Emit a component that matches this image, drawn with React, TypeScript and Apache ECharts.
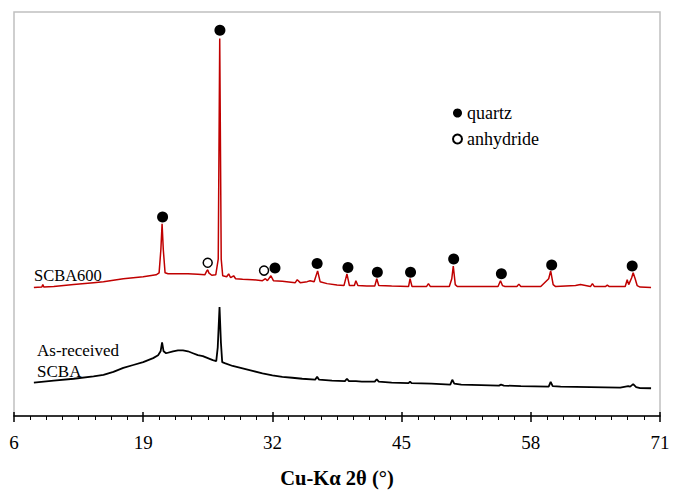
import React, { useEffect, useRef } from "react";
import * as echarts from "echarts";

// SCBA600 (red, offset pattern)
const redTheta = [8.0, 8.8, 8.9, 9.0, 10, 12, 14, 15, 17, 19, 20.3, 20.6, 20.78, 20.9, 21.02, 21.2, 21.5, 22.5, 23.5, 24.5, 25.2, 25.4, 25.5, 25.6, 25.9, 26.3, 26.55, 26.7, 26.85, 27.0, 27.4, 27.6, 27.8, 28.1, 28.3, 29, 30, 31, 31.3, 31.5, 31.85, 32.1, 33, 34.3, 34.5, 34.8, 35.5, 35.8, 36.2, 36.55, 36.8, 37.5, 38.5, 39.2, 39.5, 39.75, 40.25, 40.4, 40.6, 41.5, 42.3, 42.5, 42.7, 44, 45.7, 45.85, 46.05, 47.5, 47.7, 47.9, 49.8, 50.05, 50.2, 50.4, 50.6, 52, 54.7, 54.95, 55.15, 55.4, 56.6, 56.8, 57.0, 59.0, 59.8, 60.0, 60.25, 60.5, 62.5, 63, 63.5, 64.0, 64.2, 64.4, 65.5, 65.7, 65.9, 67.5, 67.7, 67.85, 68.15, 68.3, 68.5, 68.7, 69, 70.1];
const redIntensity = [131, 131.5, 134, 131.5, 132, 134, 136, 137, 140, 142, 144, 146, 170, 196, 170, 146, 145, 145, 145, 144.5, 144, 148, 149, 146, 143.5, 144, 160, 385, 160, 143, 142, 145, 141, 143, 140, 139.5, 139, 138, 140, 138, 143, 138, 137.5, 136, 139, 136, 137, 138, 137, 148, 137, 135, 133.5, 133, 145, 133, 133, 138, 133, 132.5, 132.5, 140, 133, 132.5, 132, 140, 132, 132, 135, 132, 132, 140, 153, 134, 132, 132, 132, 138, 133, 132, 132, 134.5, 132, 132, 140, 148, 134, 132, 133, 134, 133, 132, 135, 132, 132, 133.5, 132, 132, 139, 134, 141, 146, 140, 133, 131.5, 131];

// As-received SCBA (black)
const blackTheta = [8.0, 10, 12, 14, 15, 16, 17, 18, 19, 20, 20.5, 20.75, 20.9, 21.05, 21.3, 22, 22.5, 23, 23.5, 24, 24.5, 25, 25.5, 26, 26.35, 26.5, 26.68, 26.82, 26.95, 27.2, 28, 29, 30, 31, 32, 33, 34, 35, 36.3, 36.5, 36.7, 38, 39.3, 39.5, 39.7, 40.4, 41, 42.3, 42.5, 42.7, 44, 45.7, 45.85, 46.0, 48, 49.9, 50.1, 50.3, 51, 53, 54.8, 55, 55.3, 57, 59.8, 60.0, 60.2, 61, 64, 67, 67.8, 68.0, 68.3, 68.6, 69, 70.1];
const blackIntensity = [34, 36, 38, 40.5, 42, 45, 49, 52, 55, 59, 62, 66, 75, 66, 64, 66, 67, 67, 66, 64, 62, 61, 59, 57, 56, 70, 111, 75, 55, 54, 51, 48.5, 46, 43.5, 41.5, 40, 39, 38, 37, 40, 37, 36, 35.5, 38, 35.5, 35.5, 35, 35, 37.5, 35, 34, 33.5, 35, 33.5, 33, 32, 37, 33, 32, 31.5, 31, 32, 31, 30.5, 30, 34.7, 30.5, 30, 29.5, 29, 30.5, 30, 32.5, 29.5, 28.5, 28.3];

// phase markers
const quartzTheta = [20.95, 26.72, 32.26, 36.5, 39.6, 42.56, 45.9, 50.24, 55.04, 60.1, 68.2];
const quartzLevel = [203, 393.5, 151, 155.5, 151.5, 146.5, 146.5, 160, 145, 154, 153];
const anhydriteTheta = [25.49, 31.16];
const anhydriteLevel = [156.3, 148.3];

const xTicks = [6, 19, 32, 45, 58, 71];

const zip = (a: number[], b: number[]) => a.map((v, i) => [v, b[i]]);

const FONT = "Liberation Serif";

export default function App() {
  const ref = useRef<HTMLDivElement>(null);
  useEffect(() => {
    if (!ref.current) return;
    const chart = echarts.init(ref.current, undefined, { renderer: "svg" });
    const xMin = xTicks[0];
    const xMax = xTicks[xTicks.length - 1];
    const xInterval = xTicks[1] - xTicks[0];
    chart.setOption({
      animation: false,
      grid: {
        left: 14,
        right: 18,
        top: 12,
        bottom: 69,
        show: true,
        borderColor: "#c0c0c0",
        borderWidth: 1.5,
      },
      legend: {
        orient: "vertical",
        left: 447,
        top: 99,
        itemGap: 8,
        itemWidth: 9,
        itemHeight: 9,
        data: ["quartz", "anhydride"],
        textStyle: { fontFamily: FONT, fontSize: 18, color: "#000" },
      },
      xAxis: [
        {
          type: "value",
          min: xMin,
          max: xMax,
          interval: xInterval,
          position: "bottom",
          name: "Cu-Kα 2θ (°)",
          nameLocation: "middle",
          nameGap: 51,
          nameTextStyle: { fontFamily: FONT, fontSize: 20.5, fontWeight: "bold", color: "#000" },
          axisLine: { show: true, onZero: false, lineStyle: { color: "#000", width: 1.5 } },
          axisTick: { show: true, length: 6, lineStyle: { color: "#000", width: 1.5 } },
          minorTick: { show: true, splitNumber: 8, length: 4, lineStyle: { color: "#000", width: 1 } },
          axisLabel: { fontFamily: FONT, fontSize: 19, color: "#000", margin: 17 },
          splitLine: { show: false },
        },
        {
          type: "value",
          min: xMin,
          max: xMax,
          interval: xInterval,
          position: "bottom",
          axisLine: { show: false, onZero: false },
          axisTick: { show: true, inside: true, length: 4, lineStyle: { color: "#000", width: 1.5 } },
          axisLabel: { show: false },
          splitLine: { show: false },
        },
      ],
      yAxis: {
        type: "value",
        min: 0,
        max: 412,
        show: false,
        splitLine: { show: false },
      },
      series: [
        {
          name: "SCBA600",
          type: "line",
          data: zip(redTheta, redIntensity),
          showSymbol: false,
          symbol: "none",
          lineStyle: { color: "#c00000", width: 1.5 },
          z: 2,
        },
        {
          name: "As-received SCBA",
          type: "line",
          data: zip(blackTheta, blackIntensity),
          showSymbol: false,
          symbol: "none",
          lineStyle: { color: "#000", width: 1.8 },
          z: 2,
        },
        {
          name: "quartz",
          type: "scatter",
          data: zip(quartzTheta, quartzLevel),
          symbol: "circle",
          symbolSize: 11,
          itemStyle: { color: "#000", opacity: 1 },
          z: 3,
        },
        {
          name: "anhydride",
          type: "scatter",
          data: zip(anhydriteTheta, anhydriteLevel),
          symbol: "circle",
          symbolSize: 9,
          itemStyle: { color: "#fff", borderColor: "#000", borderWidth: 1.5, opacity: 1 },
          z: 3,
        },
      ],
      graphic: [
        {
          type: "text",
          left: 34,
          top: 267,
          style: { text: "SCBA600", font: `16.5px ${FONT}`, fill: "#000" },
        },
        {
          type: "text",
          left: 37,
          top: 340,
          style: { text: "As-received\nSCBA", font: `17px ${FONT}`, fill: "#000", lineHeight: 21 },
        },
      ],
    });
    return () => chart.dispose();
  }, []);
  return (
    <div
      ref={ref}
      style={{ position: "absolute", left: 0, top: 0, width: 678, height: 493 }}
    />
  );
}
